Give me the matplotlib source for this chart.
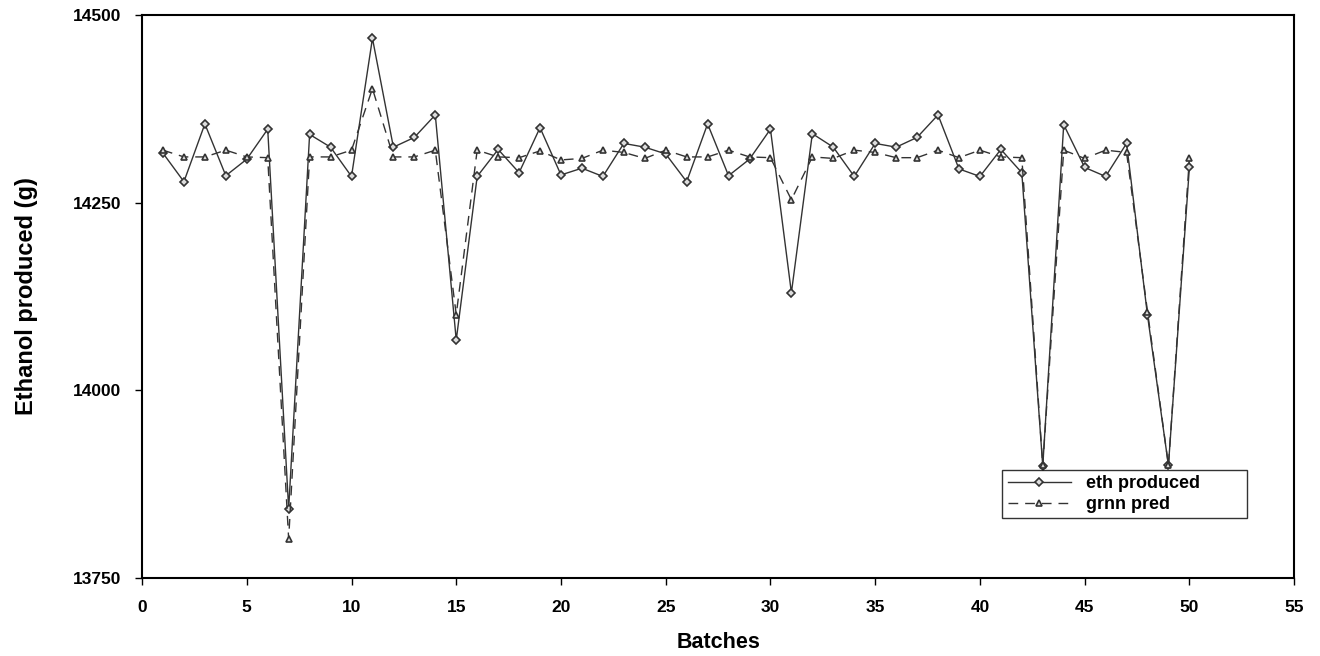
import numpy as np
import matplotlib.pyplot as plt

plt.rcParams['font.family'] = ['Liberation Sans', 'DejaVu Sans']

# batch numbers and values
batches = list(range(1, 51))
eth_produced = [14316, 14278, 14355, 14286, 14308, 14348, 13842, 14341, 14324, 14285,
                14469, 14324, 14337, 14367, 14067, 14285, 14321, 14290, 14350, 14287,
                14296, 14285, 14329, 14324, 14315, 14278, 14355, 14286, 14308, 14348,
                14130, 14342, 14324, 14285, 14329, 14324, 14337, 14367, 14295, 14285,
                14321, 14290, 13899, 14354, 14297, 14285, 14329, 14100, 13900, 14297]
grnn_pred = [14320, 14311, 14311, 14320, 14311, 14310, 13802, 14311, 14311, 14320,
             14402, 14311, 14311, 14320, 14101, 14320, 14311, 14310, 14319, 14307,
             14309, 14320, 14317, 14309, 14320, 14311, 14311, 14320, 14311, 14310,
             14254, 14311, 14309, 14320, 14317, 14310, 14310, 14320, 14310, 14320,
             14311, 14310, 13900, 14320, 14309, 14320, 14317, 14105, 13900, 14309]
x_ticks = list(range(0, 56, 5))
y_ticks = [13750, 14000, 14250, 14500]

fig = plt.figure(figsize=(13.2, 6.56), dpi=100)
ax = fig.add_axes([0.1076, 0.119, 0.8728, 0.858])

ax.plot(batches, eth_produced, color='#333333', lw=1.0, marker='D', ms=4,
        mfc='#dddddd', mec='#333333', mew=1.2, label='eth produced')
ax.plot(batches, grnn_pred, color='#333333', lw=1.0, ls=(0, (7, 5)), marker='^', ms=5,
        mfc='#dddddd', mec='#333333', mew=1.2, label='grnn pred')

ax.set_xlim(0, 55)
ax.set_ylim(13750, 14500)
ax.set_xticks(x_ticks)
ax.set_yticks(y_ticks)
ax.tick_params(direction='out', length=5, width=1, labelsize=12.5)
ax.tick_params(axis='x', pad=11)
ax.tick_params(axis='y', pad=10)
for lab in ax.get_xticklabels() + ax.get_yticklabels():
    lab.set_fontweight('bold')
for s in ax.spines.values():
    s.set_linewidth(1.5)

ax.set_xlabel('Batches', fontsize=15.5, fontweight='bold', labelpad=12)
ax.set_ylabel('Ethanol produced (g)', fontsize=17, fontweight='bold')
ax.yaxis.set_label_coords(-0.09, 0.5)

leg = ax.legend(loc='lower left', bbox_to_anchor=(0.739, 0.09, 0.228, 0.095),
                mode='expand', frameon=True, fancybox=False, edgecolor='black',
                handlelength=3.5, borderpad=0.3, labelspacing=0.2,
                prop={'weight': 'bold', 'size': 13})
leg.get_frame().set_linewidth(1.0)

fig.savefig('out.png', dpi=100)
